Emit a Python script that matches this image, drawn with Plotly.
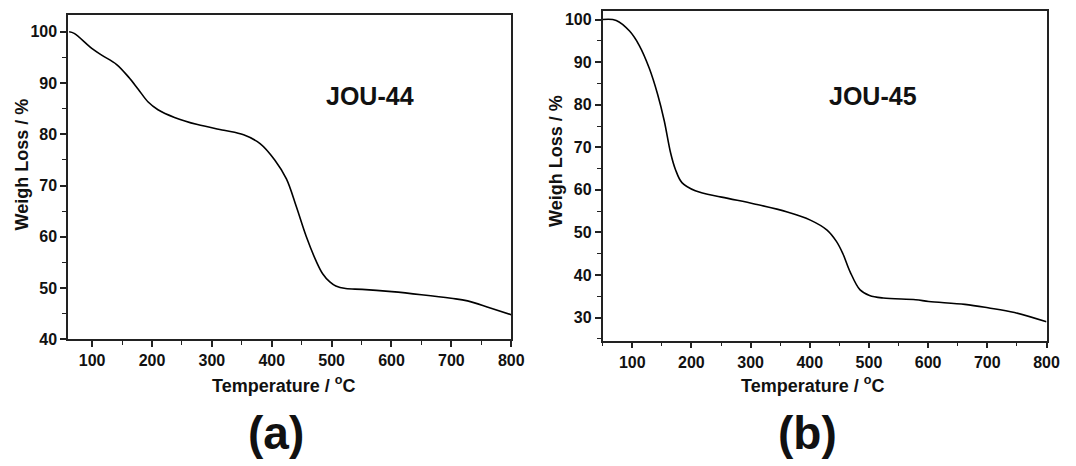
import plotly.graph_objects as go

# JOU-44 TGA curve (a)
temp_a = [61.6, 70, 100, 116.6, 141, 160.6, 177, 193.6, 210, 237.6, 276, 320, 353, 380.5,
          405, 424.5, 441, 457.5, 474, 485, 497, 507, 523.5, 551, 600.5, 650, 699.5, 727,
          765, 800]
weight_a = [100, 99.7, 96.7, 95.4, 93.6, 91.2, 88.8, 86.3, 84.8, 83.3, 81.9, 80.8, 79.9, 78.2,
            75.0, 71.3, 65.9, 60.1, 55.3, 52.8, 51.2, 50.4, 49.9, 49.75, 49.3, 48.7, 48.0, 47.5,
            46.1, 44.8]

# JOU-45 TGA curve (b)
temp_b = [50, 73, 95.5, 112, 129, 143, 154, 165, 173, 184, 206.6, 251, 306.5, 362, 401, 428.7,
          445, 456, 468, 485, 501, 524, 579, 601, 662, 701, 746, 800]
weight_b = [100, 99.8, 97.3, 93.9, 88.5, 82.4, 76.3, 68.6, 64.8, 61.7, 59.8, 58.3, 56.7, 54.8,
            52.9, 50.6, 47.9, 45.0, 40.8, 36.5, 35.2, 34.6, 34.2, 33.8, 33.1, 32.3, 31.2, 29.0]

W, H = 1076, 466
FONT = "Liberation Sans, Arial, sans-serif"

def px_x(p):
    return p / W

def px_y(p):
    return 1 - p / H

fig = go.Figure()
fig.add_trace(go.Scatter(x=temp_a, y=weight_a, mode="lines", line=dict(color="black", width=1.6, shape="spline"),
                         xaxis="x", yaxis="y", showlegend=False))
fig.add_trace(go.Scatter(x=temp_b, y=weight_b, mode="lines", line=dict(color="black", width=1.6, shape="spline"),
                         xaxis="x2", yaxis="y2", showlegend=False))

axis_common = dict(
    showline=True, linecolor="#222", linewidth=1.6, mirror=True,
    ticks="outside", ticklen=6, tickwidth=1.5, tickcolor="#222",
    showgrid=False, zeroline=False, tickmode="linear", tick0=0,
    tickfont=dict(family=FONT, size=16, color="#111", weight="bold"),
)

def minor(d):
    return dict(ticks="outside", ticklen=4, tickwidth=1.3, tickcolor="#222",
                tickmode="linear", tick0=0, dtick=d, showgrid=False)

fig.update_layout(
    width=W, height=H,
    margin=dict(l=0, r=0, t=0, b=0),
    paper_bgcolor="white", plot_bgcolor="white",
    xaxis=dict(domain=[px_x(69), px_x(517.5)], range=[60, 800], dtick=100, anchor="y",
               minor=minor(50), **axis_common),
    yaxis=dict(domain=[px_y(346), px_y(15.7)], range=[40, 103.2], dtick=10, anchor="x",
               minor=minor(5), **axis_common),
    xaxis2=dict(domain=[px_x(610), px_x(1059.3)], range=[50, 800], dtick=100, anchor="y2",
                minor=minor(50), **axis_common),
    yaxis2=dict(domain=[px_y(347.3), px_y(11.7)], range=[24.6, 101.9], dtick=10, anchor="x2",
                minor=minor(5), **axis_common),
)

def ann(text, x, y, size, angle=0):
    fig.add_annotation(text=text, x=px_x(x), y=px_y(y), xref="paper", yref="paper",
                       showarrow=False, textangle=angle, xanchor="center", yanchor="middle",
                       font=dict(family=FONT, size=size, color="#111", weight="bold"))

ann("Weigh Loss / %", 22, 168, 18, -90)
ann("Weigh Loss / %", 563, 164, 18, -90)
ann("Temperature / <sup>o</sup>C", 287, 392, 18)
ann("Temperature / <sup>o</sup>C", 822, 392, 18)
ann("JOU-44", 374.5, 97.5, 25)
ann("JOU-45", 884, 98, 25)
ann("(a)", 279, 442, 46)
ann("(b)", 817, 442, 46)

fig.write_html("out.html")
